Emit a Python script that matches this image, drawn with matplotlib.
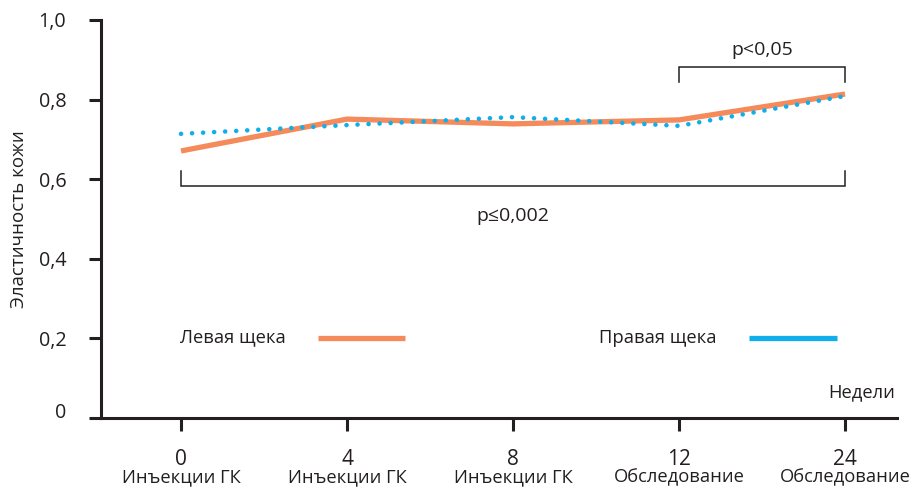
import matplotlib
matplotlib.use("Agg")
import matplotlib.pyplot as plt
from matplotlib.transforms import ScaledTranslation

plt.rcParams['font.family'] = ['Open Sans', 'DejaVu Sans']

weeks = ["0", "4", "8", "12", "24"]
phases = ["Инъекции ГК", "Инъекции ГК", "Инъекции ГК", "Обследование", "Обследование"]
left_cheek = [0.671, 0.751, 0.739, 0.749, 0.814]
right_cheek = [0.714, 0.736, 0.756, 0.734, 0.809]
y_ticks = [0, 0.2, 0.4, 0.6, 0.8, 1.0]
y_tick_labels = ["0", "0,2", "0,4", "0,6", "0,8", "1,0"]

ORANGE = "#f58a5a"
BLUE = "#10aeea"
INK = "#231f20"

fig = plt.figure(figsize=(9.12, 4.87), dpi=100)
ax = fig.add_axes([101 / 912, 1 - 418 / 487, (897 - 101) / 912, (418 - 20) / 487])

x = list(range(len(weeks)))
ax.plot(x, left_cheek, color=ORANGE, lw=3.8, solid_capstyle='butt', zorder=2)
ax.plot(x, right_cheek, color=BLUE, lw=3.3, linestyle=(0, (0.01, 2.4)),
        dash_capstyle='round', zorder=3)

ax.set_xlim(-0.482, 4.313)
ax.set_ylim(0, 1.0)

for s in ["top", "right"]:
    ax.spines[s].set_visible(False)
for s in ["left", "bottom"]:
    ax.spines[s].set_linewidth(2.2)
    ax.spines[s].set_color(INK)

ax.set_yticks(y_ticks)
ax.set_yticklabels(y_tick_labels, fontsize=14.2, color=INK)
ax.set_xticks(x)
ax.set_xticklabels(weeks, fontsize=15, color=INK)
ax.tick_params(axis='both', direction='out', length=9, width=2.2, color=INK)
ax.tick_params(axis='y', pad=16)
ax.tick_params(axis='x', pad=13)

# the zero label sits a little above its tick
zero_lbl = ax.get_yticklabels()[0]
zero_lbl.set_transform(zero_lbl.get_transform() + ScaledTranslation(0, 7 / 100, fig.dpi_scale_trans))

# phase names under the week numbers
for xi, p in zip(x, phases):
    ax.annotate(p, xy=(xi, 0), xycoords=('data', 'axes fraction'),
                xytext=(0, -43), textcoords='offset points',
                ha='center', va='center', fontsize=13.2, color=INK,
                annotation_clip=False)

ax.set_ylabel("Эластичность кожи", fontsize=13.5, color=INK)
ax.yaxis.set_label_coords(-73 / 796, 0.5)

# significance brackets
def bracket(x0, x1, y, h, text, ty):
    ax.plot([x0, x0, x1, x1], [y + h, y, y, y + h], color=INK, lw=1.1,
            solid_joinstyle='miter', zorder=1)
    ax.text((x0 + x1) / 2, ty, text, ha='center', va='center', fontsize=14, color=INK)

bracket(0, 4, 0.584, 0.037, "p≤0,002", 0.508)
bracket(3, 4, 0.881, -0.037, "p<0,05", 0.924)

# legend
ax.text(-0.005, 0.202, "Левая щека", ha='left', va='center', fontsize=13.2, color=INK)
ax.plot([0.825, 1.35], [0.202, 0.202], color=ORANGE, lw=3.8, solid_capstyle='butt')
ax.text(2.52, 0.202, "Правая щека", ha='left', va='center', fontsize=13.2, color=INK)
ax.plot([3.42, 3.95], [0.202, 0.202], color=BLUE, lw=3.8, solid_capstyle='butt')

ax.text(4.3, 0.065, "Недели", ha='right', va='center', fontsize=13.2, color=INK)

fig.savefig("out.png", dpi=100)
